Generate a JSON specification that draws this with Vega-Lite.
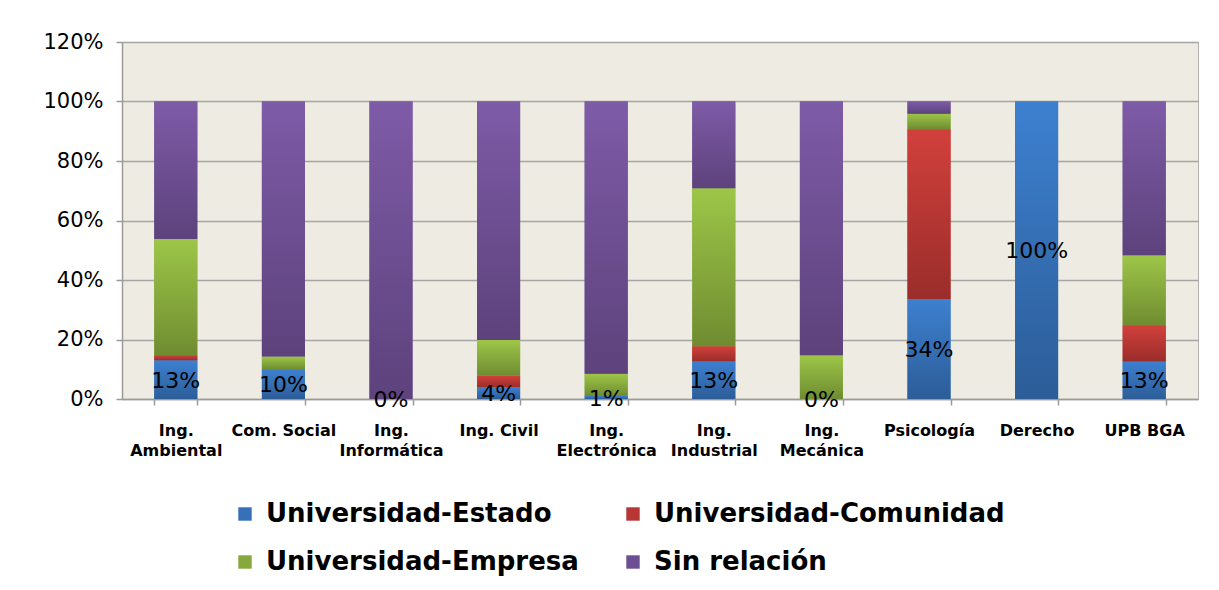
{
  "$schema": "https://vega.github.io/schema/vega-lite/v6.json",
  "width": 1076,
  "height": 357,
  "autosize": {"type": "none"},
  "padding": {"left": 122, "top": 42, "right": 21, "bottom": 191},
  "background": "#ffffff",
  "data": {
    "values": [
      {"programa": "Ing. Ambiental", "serie": "Universidad-Estado", "valor": 0.13},
      {"programa": "Ing. Ambiental", "serie": "Universidad-Comunidad", "valor": 0.017},
      {"programa": "Ing. Ambiental", "serie": "Universidad-Empresa", "valor": 0.391},
      {"programa": "Ing. Ambiental", "serie": "Sin relación", "valor": 0.462},
      {"programa": "Com. Social", "serie": "Universidad-Estado", "valor": 0.10},
      {"programa": "Com. Social", "serie": "Universidad-Comunidad", "valor": 0.0},
      {"programa": "Com. Social", "serie": "Universidad-Empresa", "valor": 0.043},
      {"programa": "Com. Social", "serie": "Sin relación", "valor": 0.857},
      {"programa": "Ing. Informática", "serie": "Universidad-Estado", "valor": 0.0},
      {"programa": "Ing. Informática", "serie": "Universidad-Comunidad", "valor": 0.0},
      {"programa": "Ing. Informática", "serie": "Universidad-Empresa", "valor": 0.0},
      {"programa": "Ing. Informática", "serie": "Sin relación", "valor": 1.0},
      {"programa": "Ing. Civil", "serie": "Universidad-Estado", "valor": 0.04},
      {"programa": "Ing. Civil", "serie": "Universidad-Comunidad", "valor": 0.038},
      {"programa": "Ing. Civil", "serie": "Universidad-Empresa", "valor": 0.12},
      {"programa": "Ing. Civil", "serie": "Sin relación", "valor": 0.802},
      {"programa": "Ing. Electrónica", "serie": "Universidad-Estado", "valor": 0.01},
      {"programa": "Ing. Electrónica", "serie": "Universidad-Comunidad", "valor": 0.0},
      {"programa": "Ing. Electrónica", "serie": "Universidad-Empresa", "valor": 0.075},
      {"programa": "Ing. Electrónica", "serie": "Sin relación", "valor": 0.915},
      {"programa": "Ing. Industrial", "serie": "Universidad-Estado", "valor": 0.127},
      {"programa": "Ing. Industrial", "serie": "Universidad-Comunidad", "valor": 0.05},
      {"programa": "Ing. Industrial", "serie": "Universidad-Empresa", "valor": 0.531},
      {"programa": "Ing. Industrial", "serie": "Sin relación", "valor": 0.292},
      {"programa": "Ing. Mecánica", "serie": "Universidad-Estado", "valor": 0.0},
      {"programa": "Ing. Mecánica", "serie": "Universidad-Comunidad", "valor": 0.0},
      {"programa": "Ing. Mecánica", "serie": "Universidad-Empresa", "valor": 0.147},
      {"programa": "Ing. Mecánica", "serie": "Sin relación", "valor": 0.853},
      {"programa": "Psicología", "serie": "Universidad-Estado", "valor": 0.336},
      {"programa": "Psicología", "serie": "Universidad-Comunidad", "valor": 0.571},
      {"programa": "Psicología", "serie": "Universidad-Empresa", "valor": 0.052},
      {"programa": "Psicología", "serie": "Sin relación", "valor": 0.041},
      {"programa": "Derecho", "serie": "Universidad-Estado", "valor": 1.0},
      {"programa": "Derecho", "serie": "Universidad-Comunidad", "valor": 0.0},
      {"programa": "Derecho", "serie": "Universidad-Empresa", "valor": 0.0},
      {"programa": "Derecho", "serie": "Sin relación", "valor": 0.0},
      {"programa": "UPB BGA", "serie": "Universidad-Estado", "valor": 0.126},
      {"programa": "UPB BGA", "serie": "Universidad-Comunidad", "valor": 0.122},
      {"programa": "UPB BGA", "serie": "Universidad-Empresa", "valor": 0.235},
      {"programa": "UPB BGA", "serie": "Sin relación", "valor": 0.517}
    ]
  },
  "transform": [
    {"stack": "valor", "groupby": ["programa"], "as": ["v0", "v1"]}
  ],
  "encoding": {
    "x": {
      "field": "programa",
      "type": "nominal",
      "sort": null,
      "scale": {"paddingInner": 0.6, "paddingOuter": 0.3},
      "title": null
    }
  },
  "layer": [
    {
      "mark": {"type": "bar"},
      "encoding": {
        "y": {
          "field": "v0",
          "type": "quantitative",
          "scale": {"domain": [0, 1.2], "nice": false},
          "title": null,
          "axis": {"values": [0, 0.2, 0.4, 0.6, 0.8, 1.0, 1.2], "format": ".0%"}
        },
        "y2": {"field": "v1"},
        "color": {
          "field": "serie",
          "type": "nominal",
          "scale": {
            "domain": ["Universidad-Estado", "Universidad-Comunidad", "Universidad-Empresa", "Sin relación"],
            "range": ["#3670b8", "#b83633", "#86a83c", "#6c4f92"]
          },
          "legend": {
            "title": null,
            "orient": "none",
            "legendX": 110,
            "legendY": 459,
            "direction": "horizontal",
            "columns": 2,
            "columnPadding": 41,
            "rowPadding": 22,
            "symbolType": "square",
            "symbolSize": 180,
            "symbolStrokeWidth": 0,
            "labelFont": "DejaVu Sans",
            "labelFontWeight": "bold",
            "labelFontSize": 26,
            "labelColor": "#000000",
            "labelOffset": 8,
            "labelLimit": 500
          }
        }
      }
    },
    {
      "transform": [{"filter": "datum.serie == 'Universidad-Estado'"}],
      "mark": {"type": "bar", "color": {"gradient": "linear", "x1": 0, "y1": 0, "x2": 0, "y2": 1, "stops": [{"offset": 0, "color": "#3d80d0"}, {"offset": 1, "color": "#2c5d98"}]}},
      "encoding": {"y": {"field": "v0", "type": "quantitative", "title": null}, "y2": {"field": "v1"}}
    },
    {
      "transform": [{"filter": "datum.serie == 'Universidad-Comunidad'"}],
      "mark": {"type": "bar", "color": {"gradient": "linear", "x1": 0, "y1": 0, "x2": 0, "y2": 1, "stops": [{"offset": 0, "color": "#d2403c"}, {"offset": 1, "color": "#9a2d2a"}]}},
      "encoding": {"y": {"field": "v0", "type": "quantitative", "title": null}, "y2": {"field": "v1"}}
    },
    {
      "transform": [{"filter": "datum.serie == 'Universidad-Empresa'"}],
      "mark": {"type": "bar", "color": {"gradient": "linear", "x1": 0, "y1": 0, "x2": 0, "y2": 1, "stops": [{"offset": 0, "color": "#9dc648"}, {"offset": 1, "color": "#6f8c31"}]}},
      "encoding": {"y": {"field": "v0", "type": "quantitative", "title": null}, "y2": {"field": "v1"}}
    },
    {
      "transform": [{"filter": "datum.serie == 'Sin relación'"}],
      "mark": {"type": "bar", "color": {"gradient": "linear", "x1": 0, "y1": 0, "x2": 0, "y2": 1, "stops": [{"offset": 0, "color": "#7e5ba7"}, {"offset": 1, "color": "#5d427c"}]}},
      "encoding": {"y": {"field": "v0", "type": "quantitative", "title": null}, "y2": {"field": "v1"}}
    },
    {
      "transform": [
        {"filter": "datum.serie == 'Universidad-Estado'"},
        {"calculate": "(datum.v0 + datum.v1) / 2", "as": "medio"}
      ],
      "mark": {"type": "text", "font": "DejaVu Sans", "fontSize": 22, "color": "#000000", "baseline": "middle", "dy": 1},
      "encoding": {
        "y": {"field": "medio", "type": "quantitative", "title": null},
        "text": {"field": "valor", "type": "quantitative", "format": ".0%"}
      }
    }
  ],
  "config": {
    "view": {"fill": "#eeece2", "stroke": "#b0b0b0", "strokeWidth": 1},
    "axisX": {
      "labelAngle": 0,
      "labelFont": "DejaVu Sans",
      "labelFontWeight": "bold",
      "labelFontSize": 16,
      "labelColor": "#000000",
      "labelPadding": 17,
      "labelLineHeight": 20,
      "labelBaseline": "top",
      "labelExpr": "datum.label == 'Ing. Civil' ? datum.label : (indexof(datum.label, 'Ing. ') == 0 ? ['Ing.', slice(datum.label, 5)] : datum.label)",
      "tickBand": "extent",
      "tickSize": 6,
      "tickColor": "#9a9a9a",
      "tickWidth": 1.5,
      "domainColor": "#9a9a9a",
      "domainWidth": 1.5,
      "grid": false
    },
    "axisY": {
      "labelFont": "DejaVu Sans",
      "labelFontSize": 21,
      "labelColor": "#000000",
      "labelPadding": 13,
      "tickSize": 6,
      "tickColor": "#9a9a9a",
      "tickWidth": 1.5,
      "domainColor": "#9a9a9a",
      "domainWidth": 1.5,
      "gridColor": "#a5a5a5",
      "gridWidth": 1.5
    }
  }
}
